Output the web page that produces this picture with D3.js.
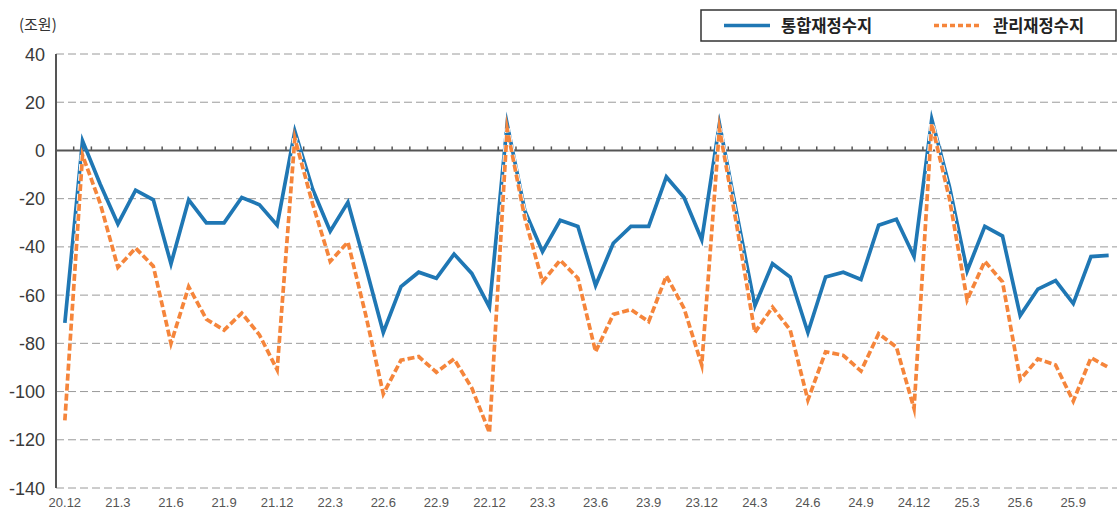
<!DOCTYPE html>
<html>
<head>
<meta charset="utf-8">
<script src="https://cdn.jsdelivr.net/npm/d3@7"></script>
<style>
  body { margin: 0; background: #fff; }
  svg { display: block; font-family: "Liberation Sans Narrow", "Liberation Sans", Roboto, sans-serif; }
  .grid line { stroke: #9a9a9a; stroke-dasharray: 8,4; stroke-width: 1; }
  .ylab { fill: #3a3a3a; font-size: 18px; }
  .xlab { fill: #555; font-size: 13px; }
  .legend-text { font-family: "Noto Sans CJK KR", sans-serif; font-weight: bold; font-size: 16.5px; fill: #222; }
</style>
</head>
<body>
<svg width="1117" height="511"></svg>
<script>
// Months (20.12 ~ 25.11)
const months = [
    "20.12",
    "21.1","21.2","21.3","21.4","21.5","21.6","21.7","21.8","21.9","21.10","21.11","21.12",
    "22.1","22.2","22.3","22.4","22.5","22.6","22.7","22.8","22.9","22.10","22.11","22.12",
    "23.1","23.2","23.3","23.4","23.5","23.6","23.7","23.8","23.9","23.10","23.11","23.12",
    "24.1","24.2","24.3","24.4","24.5","24.6","24.7","24.8","24.9","24.10","24.11","24.12",
    "25.1","25.2","25.3","25.4","25.5","25.6","25.7","25.8","25.9","25.10","25.11"
];
const tickMonths = ["20.12","21.3","21.6","21.9","21.12","22.3","22.6","22.9","22.12",
    "23.3","23.6","23.9","23.12","24.3","24.6","24.9","24.12","25.3","25.6","25.9"];
const yTicks = [40, 20, 0, -20, -40, -60, -80, -100, -120, -140];

// 통합재정수지 (trillion won)
const consolidated = [
    -71.5,
    4, -14, -30.5, -16.5, -20.5, -47, -20.5, -30, -30, -19.5, -22.5, -31,
    8, -16, -33.5, -21.5, -48, -75.5, -56.5, -50.5, -53, -43, -51, -65,
    11, -25, -42, -29, -31.5, -56, -38.5, -31.5, -31.5, -11, -19.5, -37,
    11, -27, -64.5, -47, -52.5, -75.5, -52.5, -50.5, -53.5, -31, -28.5, -44,
    13, -15, -50, -31.5, -35.5, -68.5, -57.5, -54, -63.5, -44, -43.5
];
// 관리재정수지
const managed = [
    -112,
    -2, -22, -48.5, -40.5, -48, -80, -56.5, -70, -74.5, -67.5, -76.5, -91,
    5, -22, -46, -38, -68, -101, -87, -85.5, -92, -86.5, -98.5, -117,
    9, -28, -54.5, -45.5, -53, -83.5, -68, -66, -71, -52, -65.5, -89,
    9, -32, -75.5, -65, -74.5, -103.5, -83.5, -85, -91.5, -76, -81.5, -107,
    11, -20, -62, -46, -54.5, -95, -86.5, -89, -104, -86, -90
];

const blue = "#1f77b4";
const orange = "#f5853b";

const svg = d3.select("svg");

const x = d3.scaleBand().domain(months).range([56, 1117.5]).padding(0);
const y = d3.scaleLinear().domain([-140, 40]).range([488, 54]);
const cx = m => x(m) + x.bandwidth() / 2;

// Dashed gridlines
svg.append("g").attr("class", "grid")
    .selectAll("line")
    .data(yTicks.filter(v => v !== 0))
    .join("line")
    .attr("x1", 56).attr("x2", 1117)
    .attr("y1", d => y(d)).attr("y2", d => y(d));

// Y labels
svg.append("g").selectAll("text")
    .data(yTicks)
    .join("text")
    .attr("class", "ylab")
    .attr("x", 45)
    .attr("y", d => y(d) + 6.5)
    .attr("text-anchor", "end")
    .text(d => d);

svg.append("text")
    .attr("x", 19).attr("y", 30)
    .attr("font-family", "'Noto Sans CJK KR', sans-serif")
    .attr("font-size", 15)
    .attr("fill", "#333")
    .text("(조원)");

// Left axis line
svg.append("line")
    .attr("x1", 56).attr("x2", 56)
    .attr("y1", y(40)).attr("y2", y(-140))
    .attr("stroke", "#555").attr("stroke-width", 2);

// Zero line with monthly ticks
svg.append("line")
    .attr("x1", 56).attr("x2", 1117)
    .attr("y1", y(0)).attr("y2", y(0))
    .attr("stroke", "#555").attr("stroke-width", 2);

svg.append("g").selectAll("line")
    .data(months.slice(1))
    .join("line")
    .attr("x1", d => x(d)).attr("x2", d => x(d))
    .attr("y1", y(0)).attr("y2", y(0) - 4)
    .attr("stroke", "#555").attr("stroke-width", 1.5);

// X labels
svg.append("g").selectAll("text")
    .data(tickMonths)
    .join("text")
    .attr("class", "xlab")
    .attr("x", d => cx(d))
    .attr("y", 507)
    .attr("text-anchor", "middle")
    .text(d => d);

const line = d3.line()
    .x((d, i) => cx(months[i]))
    .y(d => y(d));

// 통합재정수지
svg.append("path")
    .datum(consolidated)
    .attr("fill", "none")
    .attr("stroke", blue)
    .attr("stroke-width", 3.7)
    .attr("stroke-linejoin", "miter")
    .attr("stroke-miterlimit", 10)
    .attr("d", line);

// 관리재정수지 (white outline under dashes)
svg.append("path")
    .datum(managed)
    .attr("fill", "none")
    .attr("stroke", "#fff")
    .attr("stroke-width", 5.5)
    .attr("stroke-dasharray", "7,3")
    .attr("stroke-linejoin", "miter")
    .attr("d", line);

svg.append("path")
    .datum(managed)
    .attr("fill", "none")
    .attr("stroke", orange)
    .attr("stroke-width", 3.7)
    .attr("stroke-dasharray", "7,3")
    .attr("stroke-linejoin", "miter")
    .attr("stroke-miterlimit", 10)
    .attr("d", line);

// Legend
const legend = svg.append("g");
legend.append("rect")
    .attr("x", 701).attr("y", 10)
    .attr("width", 415).attr("height", 31)
    .attr("fill", "#fff")
    .attr("stroke", "#333").attr("stroke-width", 1.5);

legend.append("line")
    .attr("x1", 724).attr("x2", 770).attr("y1", 25.5).attr("y2", 25.5)
    .attr("stroke", blue).attr("stroke-width", 3.7);
legend.append("text")
    .attr("class", "legend-text")
    .attr("x", 781).attr("y", 31.5)
    .text("통합재정수지");

legend.append("line")
    .attr("x1", 934).attr("x2", 980).attr("y1", 25.5).attr("y2", 25.5)
    .attr("stroke", orange).attr("stroke-width", 3.7)
    .attr("stroke-dasharray", "5,3");
legend.append("text")
    .attr("class", "legend-text")
    .attr("x", 993).attr("y", 31.5)
    .text("관리재정수지");
</script>
</body>
</html>
